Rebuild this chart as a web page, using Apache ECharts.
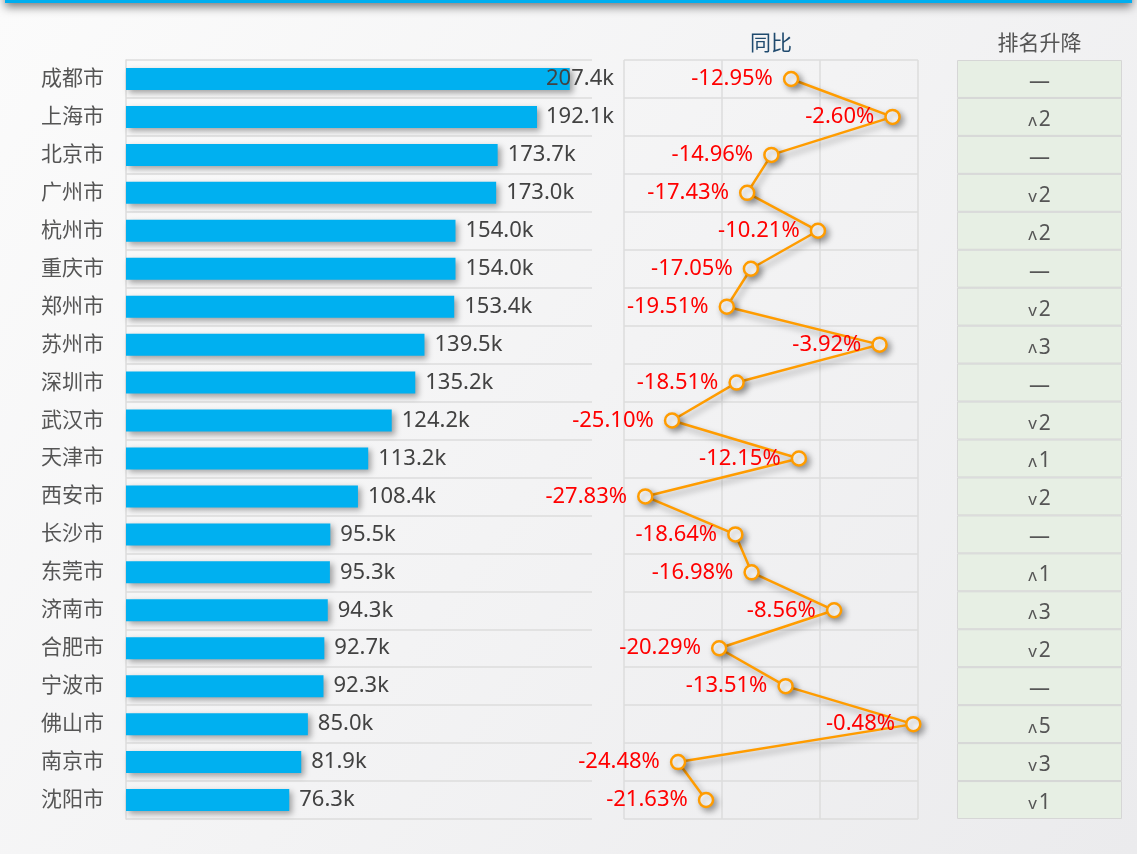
<!DOCTYPE html>
<html>
<head>
<meta charset="utf-8">
<script src="https://cdn.jsdelivr.net/npm/echarts@6/dist/echarts.min.js"></script>
<style>
  html, body { margin: 0; padding: 0; }
  #main { width: 1137px; height: 854px; }
</style>
</head>
<body>
<div id="main"></div>
<script>
const cities = ['成都市', '上海市', '北京市', '广州市', '杭州市', '重庆市', '郑州市', '苏州市', '深圳市', '武汉市',
  '天津市', '西安市', '长沙市', '东莞市', '济南市', '合肥市', '宁波市', '佛山市', '南京市', '沈阳市']
// 单位: k
const totals = [207.4, 192.1, 173.7, 173.0, 154.0, 154.0, 153.4, 139.5, 135.2, 124.2,
  113.2, 108.4, 95.5, 95.3, 94.3, 92.7, 92.3, 85.0, 81.9, 76.3]
// 同比 %
const yoy = [-12.95, -2.60, -14.96, -17.43, -10.21, -17.05, -19.51, -3.92, -18.51, -25.10,
  -12.15, -27.83, -18.64, -16.98, -8.56, -20.29, -13.51, -0.48, -24.48, -21.63]
const rankChange = ['—', 'ʌ2', '—', 'v2', 'ʌ2', '—', 'v2', 'ʌ3', '—', 'v2',
  'ʌ1', 'v2', '—', 'ʌ1', 'ʌ3', 'v2', '—', 'ʌ5', 'v3', 'v1']
const yoyTicks = { min: -30, max: 0, interval: 10 }

const font = '"Noto Sans", "Noto Sans CJK SC", sans-serif'
const gridLine = '#dcdcdc'
const rowPad = [6, 0, 0, 0] // 文字略往下移

const chart = echarts.init(document.getElementById('main'))
const option = {
  backgroundColor: new echarts.graphic.LinearGradient(0, 0, 1, 1, [
    { offset: 0, color: '#fbfbfb' },
    { offset: 1, color: '#ebebed' }
  ]),
  textStyle: { fontFamily: font },
  graphic: [
    {
      type: 'rect',
      shape: { x: 5, y: -20, width: 1127, height: 23 },
      style: {
        fill: '#00aeef',
        shadowBlur: 10,
        shadowOffsetY: 4,
        shadowColor: 'rgba(0,0,0,0.5)'
      }
    }
  ],
  grid: [
    { left: 126, top: 60, width: 466, bottom: 35 },
    { left: 624, top: 60, width: 294, bottom: 35 },
    { left: 957, top: 60, width: 165, bottom: 35 }
  ],
  xAxis: [
    {
      type: 'value',
      gridIndex: 0,
      min: 0,
      max: 217.8,
      show: false
    },
    {
      type: 'value',
      gridIndex: 1,
      min: yoyTicks.min,
      max: yoyTicks.max,
      interval: yoyTicks.interval,
      position: 'top',
      name: '同比',
      nameLocation: 'middle',
      nameGap: 5,
      nameTextStyle: { color: '#1f4a6e', fontSize: 21, fontFamily: font },
      axisLine: { show: false },
      axisTick: { show: false },
      axisLabel: { show: false },
      splitLine: { show: true, lineStyle: { color: gridLine, width: 1.5 } }
    },
    {
      type: 'value',
      gridIndex: 2,
      min: 0,
      max: 1,
      position: 'top',
      name: '排名升降',
      nameLocation: 'middle',
      nameGap: 5,
      nameTextStyle: { color: '#555', fontSize: 21, fontFamily: font },
      axisLine: { show: false },
      axisTick: { show: false },
      axisLabel: { show: false },
      splitLine: { show: false }
    }
  ],
  yAxis: [
    {
      type: 'category',
      gridIndex: 0,
      inverse: true,
      data: cities,
      axisLine: { show: true, lineStyle: { color: gridLine, width: 1.5 } },
      axisTick: { show: false },
      axisLabel: { color: '#555', fontSize: 21, margin: 22, fontFamily: font, padding: [4, 0, 0, 0] },
      splitLine: { show: true, lineStyle: { color: gridLine, width: 1.5 } }
    },
    {
      type: 'category',
      gridIndex: 1,
      inverse: true,
      data: cities,
      axisLine: { show: false },
      axisTick: { show: false },
      axisLabel: { show: false },
      splitLine: { show: true, lineStyle: { color: gridLine, width: 1.5 } }
    },
    {
      type: 'category',
      gridIndex: 2,
      inverse: true,
      data: cities,
      show: false
    }
  ],
  series: [
    {
      type: 'bar',
      xAxisIndex: 0,
      yAxisIndex: 0,
      data: totals,
      barWidth: 22,
      itemStyle: {
        color: '#00b0f0',
        shadowColor: 'rgba(0,0,0,0.35)',
        shadowBlur: 6,
        shadowOffsetX: 3,
        shadowOffsetY: 3
      },
      label: {
        show: true,
        position: 'right',
        distance: 10,
        color: '#424242',
        fontSize: 22,
        fontFamily: font,
        padding: rowPad,
        formatter: p => p.value.toFixed(1) + 'k'
      },
      // 标签不超出左侧区域
      labelLayout: params => {
        const r = params.labelRect
        const limit = 614
        if (r.x + r.width > limit) {
          return { x: limit - r.width, y: r.y + r.height / 2, align: 'left', verticalAlign: 'middle' }
        }
        return {}
      }
    },
    {
      type: 'line',
      xAxisIndex: 1,
      yAxisIndex: 1,
      data: yoy,
      symbol: 'circle',
      symbolSize: 14,
      lineStyle: {
        color: '#ff9c00',
        width: 2.5,
        shadowColor: 'rgba(0,0,0,0.35)',
        shadowBlur: 6,
        shadowOffsetX: 3,
        shadowOffsetY: 4
      },
      itemStyle: {
        color: '#fff',
        borderColor: '#ff9c00',
        borderWidth: 2.5,
        shadowColor: 'rgba(0,0,0,0.35)',
        shadowBlur: 6,
        shadowOffsetX: 3,
        shadowOffsetY: 3
      },
      label: {
        show: true,
        position: 'left',
        distance: 10,
        color: '#ff0000',
        fontSize: 22,
        fontFamily: font,
        padding: rowPad,
        formatter: p => p.value.toFixed(2) + '%'
      },
      z: 5
    },
    {
      type: 'bar',
      xAxisIndex: 2,
      yAxisIndex: 2,
      data: rankChange.map(() => 1),
      barWidth: '100%',
      silent: true,
      itemStyle: {
        color: '#e7efe4',
        borderColor: '#d6d6d6',
        borderWidth: 1
      },
      label: {
        show: true,
        position: 'inside',
        color: '#555',
        fontSize: 21,
        fontFamily: font,
        padding: rowPad,
        formatter: p => {
          const t = rankChange[p.dataIndex]
          if (t === '—') return t
          return '{s|' + t[0] + '}' + t.slice(1)
        },
        rich: {
          s: { fontSize: 17, color: '#555', fontFamily: font, padding: [2, 2, 0, 0] }
        }
      }
    }
  ]
}
chart.setOption(option)
</script>
</body>
</html>
